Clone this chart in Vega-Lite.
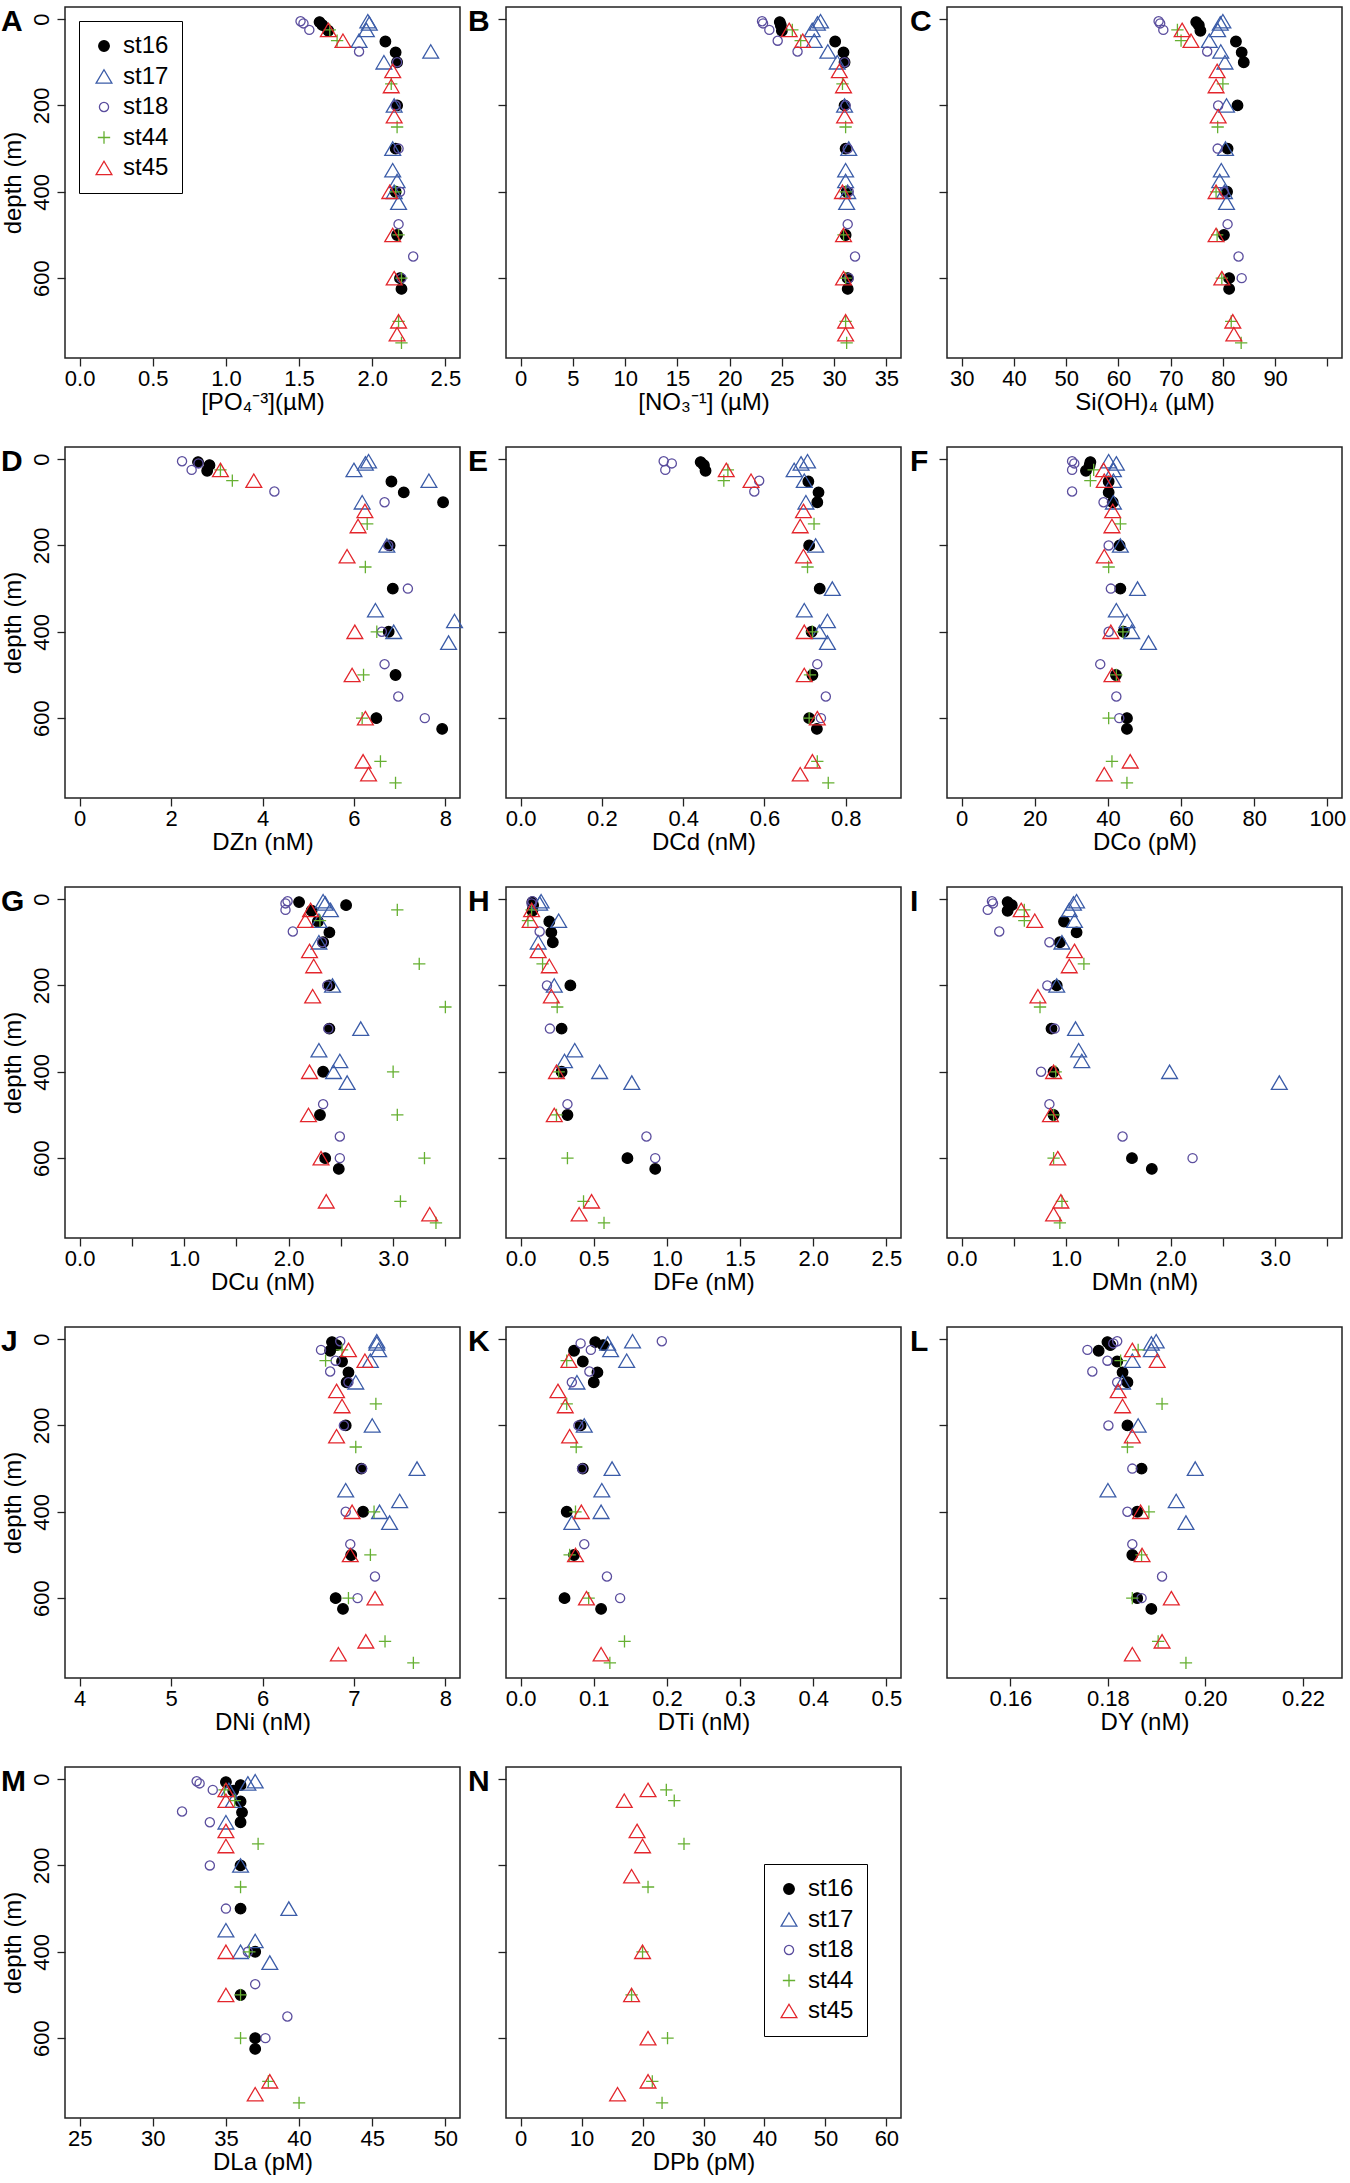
{
  "$schema": "https://vega.github.io/schema/vega-lite/v6.json",
  "background": "white",
  "padding": {"top": 6, "left": 0, "right": 0, "bottom": 0},
  "config": {
    "font": "Liberation Sans",
    "view": {"stroke": "#222222", "strokeWidth": 1.5},
    "point": {"size": 250, "strokeWidth": 1.3, "opacity": 1},
    "axis": {"domain": false, "grid": false, "tickColor": "#222222", "tickSize": 8, "tickWidth": 1.3,
      "labelFont": "Liberation Sans", "labelFontSize": 22, "labelColor": "black",
      "titleFont": "Liberation Sans", "titleFontSize": 24, "titleFontWeight": "normal", "titleColor": "black",
      "labelOverlap": false, "labelFlush": false},
    "axisX": {"labelPadding": 2, "titlePadding": 1},
    "axisY": {"labelAngle": -90, "labelAlign": "center", "labelBaseline": "bottom", "labelPadding": 4, "titlePadding": 5},
    "title": {"font": "Liberation Sans", "fontSize": 30, "fontWeight": "bold", "anchor": "start", "frame": "group", "offset": 0, "baseline": "alphabetic", "color": "black"},
    "legend": {"labelFont": "Liberation Sans", "labelFontSize": 24, "labelColor": "black", "symbolSize": 250, "symbolStrokeWidth": 1.3,
      "strokeColor": "black", "fillColor": "white", "padding": 13, "rowPadding": 6.5, "labelOffset": 7}
  },
  "data": {"values": [
{"p":"A","s":"st16","d":7,"v":1.64},{"p":"A","s":"st16","d":14,"v":1.66},{"p":"A","s":"st16","d":27,"v":1.70},{"p":"A","s":"st16","d":52,"v":2.09},{"p":"A","s":"st16","d":77,"v":2.16},{"p":"A","s":"st16","d":100,"v":2.17},{"p":"A","s":"st16","d":200,"v":2.17},{"p":"A","s":"st16","d":300,"v":2.16},{"p":"A","s":"st16","d":400,"v":2.16},{"p":"A","s":"st16","d":500,"v":2.17},{"p":"A","s":"st16","d":600,"v":2.19},{"p":"A","s":"st16","d":625,"v":2.20},
{"p":"A","s":"st17","d":5,"v":1.97},{"p":"A","s":"st17","d":10,"v":1.98},{"p":"A","s":"st17","d":25,"v":1.96},{"p":"A","s":"st17","d":50,"v":1.91},{"p":"A","s":"st17","d":75,"v":2.40},{"p":"A","s":"st17","d":100,"v":2.08},{"p":"A","s":"st17","d":200,"v":2.15},{"p":"A","s":"st17","d":300,"v":2.14},{"p":"A","s":"st17","d":350,"v":2.14},{"p":"A","s":"st17","d":375,"v":2.17},{"p":"A","s":"st17","d":400,"v":2.15},{"p":"A","s":"st17","d":425,"v":2.18},
{"p":"A","s":"st18","d":5,"v":1.51},{"p":"A","s":"st18","d":10,"v":1.53},{"p":"A","s":"st18","d":25,"v":1.57},{"p":"A","s":"st18","d":75,"v":1.91},{"p":"A","s":"st18","d":100,"v":2.17},{"p":"A","s":"st18","d":200,"v":2.16},{"p":"A","s":"st18","d":300,"v":2.18},{"p":"A","s":"st18","d":400,"v":2.19},{"p":"A","s":"st18","d":475,"v":2.18},{"p":"A","s":"st18","d":550,"v":2.28},{"p":"A","s":"st18","d":600,"v":2.20},
{"p":"A","s":"st44","d":25,"v":1.71},{"p":"A","s":"st44","d":50,"v":1.76},{"p":"A","s":"st44","d":150,"v":2.13},{"p":"A","s":"st44","d":250,"v":2.17},{"p":"A","s":"st44","d":400,"v":2.16},{"p":"A","s":"st44","d":500,"v":2.18},{"p":"A","s":"st44","d":600,"v":2.20},{"p":"A","s":"st44","d":700,"v":2.18},{"p":"A","s":"st44","d":750,"v":2.20},
{"p":"A","s":"st45","d":25,"v":1.70},{"p":"A","s":"st45","d":50,"v":1.80},{"p":"A","s":"st45","d":120,"v":2.14},{"p":"A","s":"st45","d":155,"v":2.13},{"p":"A","s":"st45","d":225,"v":2.15},{"p":"A","s":"st45","d":400,"v":2.12},{"p":"A","s":"st45","d":500,"v":2.14},{"p":"A","s":"st45","d":600,"v":2.15},{"p":"A","s":"st45","d":700,"v":2.18},{"p":"A","s":"st45","d":730,"v":2.17},

{"p":"B","s":"st16","d":7,"v":24.8},{"p":"B","s":"st16","d":14,"v":24.9},{"p":"B","s":"st16","d":27,"v":25.0},{"p":"B","s":"st16","d":52,"v":30.1},{"p":"B","s":"st16","d":77,"v":30.9},{"p":"B","s":"st16","d":100,"v":31.0},{"p":"B","s":"st16","d":200,"v":31.0},{"p":"B","s":"st16","d":300,"v":31.1},{"p":"B","s":"st16","d":400,"v":31.2},{"p":"B","s":"st16","d":500,"v":31.1},{"p":"B","s":"st16","d":600,"v":31.3},{"p":"B","s":"st16","d":625,"v":31.3},
{"p":"B","s":"st17","d":5,"v":28.7},{"p":"B","s":"st17","d":10,"v":28.4},{"p":"B","s":"st17","d":25,"v":27.9},{"p":"B","s":"st17","d":50,"v":28.1},{"p":"B","s":"st17","d":75,"v":29.4},{"p":"B","s":"st17","d":100,"v":30.3},{"p":"B","s":"st17","d":200,"v":31.0},{"p":"B","s":"st17","d":300,"v":31.4},{"p":"B","s":"st17","d":350,"v":31.1},{"p":"B","s":"st17","d":375,"v":31.1},{"p":"B","s":"st17","d":400,"v":31.3},{"p":"B","s":"st17","d":425,"v":31.2},
{"p":"B","s":"st18","d":5,"v":23.1},{"p":"B","s":"st18","d":10,"v":23.2},{"p":"B","s":"st18","d":25,"v":23.8},{"p":"B","s":"st18","d":50,"v":24.6},{"p":"B","s":"st18","d":75,"v":26.5},{"p":"B","s":"st18","d":100,"v":31.0},{"p":"B","s":"st18","d":200,"v":31.1},{"p":"B","s":"st18","d":300,"v":31.3},{"p":"B","s":"st18","d":400,"v":31.4},{"p":"B","s":"st18","d":475,"v":31.3},{"p":"B","s":"st18","d":550,"v":32.0},{"p":"B","s":"st18","d":600,"v":31.4},
{"p":"B","s":"st44","d":25,"v":26.0},{"p":"B","s":"st44","d":50,"v":26.8},{"p":"B","s":"st44","d":150,"v":30.8},{"p":"B","s":"st44","d":250,"v":31.1},{"p":"B","s":"st44","d":400,"v":31.1},{"p":"B","s":"st44","d":500,"v":30.9},{"p":"B","s":"st44","d":600,"v":31.1},{"p":"B","s":"st44","d":700,"v":31.1},{"p":"B","s":"st44","d":750,"v":31.2},
{"p":"B","s":"st45","d":25,"v":25.7},{"p":"B","s":"st45","d":50,"v":27.0},{"p":"B","s":"st45","d":120,"v":30.5},{"p":"B","s":"st45","d":155,"v":30.9},{"p":"B","s":"st45","d":225,"v":31.0},{"p":"B","s":"st45","d":400,"v":30.8},{"p":"B","s":"st45","d":500,"v":30.9},{"p":"B","s":"st45","d":600,"v":30.9},{"p":"B","s":"st45","d":700,"v":31.1},{"p":"B","s":"st45","d":730,"v":31.1},

{"p":"C","s":"st16","d":7,"v":74.9},{"p":"C","s":"st16","d":14,"v":75.4},{"p":"C","s":"st16","d":27,"v":75.7},{"p":"C","s":"st16","d":52,"v":82.5},{"p":"C","s":"st16","d":77,"v":83.6},{"p":"C","s":"st16","d":100,"v":84.0},{"p":"C","s":"st16","d":200,"v":82.8},{"p":"C","s":"st16","d":300,"v":80.9},{"p":"C","s":"st16","d":400,"v":80.8},{"p":"C","s":"st16","d":500,"v":80.2},{"p":"C","s":"st16","d":600,"v":81.2},{"p":"C","s":"st16","d":625,"v":81.2},
{"p":"C","s":"st17","d":5,"v":80.0},{"p":"C","s":"st17","d":10,"v":79.5},{"p":"C","s":"st17","d":25,"v":79.0},{"p":"C","s":"st17","d":50,"v":77.4},{"p":"C","s":"st17","d":75,"v":79.6},{"p":"C","s":"st17","d":100,"v":80.4},{"p":"C","s":"st17","d":200,"v":80.7},{"p":"C","s":"st17","d":300,"v":80.5},{"p":"C","s":"st17","d":350,"v":79.7},{"p":"C","s":"st17","d":375,"v":79.4},{"p":"C","s":"st17","d":400,"v":80.3},{"p":"C","s":"st17","d":425,"v":80.7},
{"p":"C","s":"st18","d":5,"v":67.7},{"p":"C","s":"st18","d":10,"v":68.0},{"p":"C","s":"st18","d":25,"v":68.6},{"p":"C","s":"st18","d":75,"v":77.0},{"p":"C","s":"st18","d":200,"v":79.1},{"p":"C","s":"st18","d":300,"v":79.0},{"p":"C","s":"st18","d":400,"v":80.2},{"p":"C","s":"st18","d":475,"v":80.9},{"p":"C","s":"st18","d":550,"v":83.0},{"p":"C","s":"st18","d":600,"v":83.6},
{"p":"C","s":"st44","d":25,"v":71.3},{"p":"C","s":"st44","d":50,"v":72.0},{"p":"C","s":"st44","d":150,"v":80.0},{"p":"C","s":"st44","d":250,"v":79.0},{"p":"C","s":"st44","d":400,"v":78.7},{"p":"C","s":"st44","d":500,"v":78.9},{"p":"C","s":"st44","d":600,"v":79.8},{"p":"C","s":"st44","d":700,"v":81.6},{"p":"C","s":"st44","d":750,"v":83.5},
{"p":"C","s":"st45","d":25,"v":72.2},{"p":"C","s":"st45","d":50,"v":73.9},{"p":"C","s":"st45","d":120,"v":78.9},{"p":"C","s":"st45","d":155,"v":78.7},{"p":"C","s":"st45","d":225,"v":79.1},{"p":"C","s":"st45","d":400,"v":78.7},{"p":"C","s":"st45","d":500,"v":78.7},{"p":"C","s":"st45","d":600,"v":79.8},{"p":"C","s":"st45","d":700,"v":81.9},{"p":"C","s":"st45","d":730,"v":82.1},

{"p":"D","s":"st16","d":7,"v":2.59},{"p":"D","s":"st16","d":14,"v":2.84},{"p":"D","s":"st16","d":27,"v":2.79},{"p":"D","s":"st16","d":52,"v":6.82},{"p":"D","s":"st16","d":77,"v":7.09},{"p":"D","s":"st16","d":100,"v":7.95},{"p":"D","s":"st16","d":200,"v":6.78},{"p":"D","s":"st16","d":300,"v":6.85},{"p":"D","s":"st16","d":400,"v":6.76},{"p":"D","s":"st16","d":500,"v":6.91},{"p":"D","s":"st16","d":600,"v":6.49},{"p":"D","s":"st16","d":625,"v":7.93},
{"p":"D","s":"st17","d":5,"v":6.32},{"p":"D","s":"st17","d":10,"v":6.25},{"p":"D","s":"st17","d":25,"v":6.00},{"p":"D","s":"st17","d":50,"v":7.64},{"p":"D","s":"st17","d":100,"v":6.18},{"p":"D","s":"st17","d":200,"v":6.72},{"p":"D","s":"st17","d":350,"v":6.47},{"p":"D","s":"st17","d":375,"v":8.20},{"p":"D","s":"st17","d":400,"v":6.87},{"p":"D","s":"st17","d":425,"v":8.07},
{"p":"D","s":"st18","d":5,"v":2.24},{"p":"D","s":"st18","d":10,"v":2.60},{"p":"D","s":"st18","d":25,"v":2.45},{"p":"D","s":"st18","d":75,"v":4.26},{"p":"D","s":"st18","d":100,"v":6.67},{"p":"D","s":"st18","d":200,"v":6.75},{"p":"D","s":"st18","d":300,"v":7.18},{"p":"D","s":"st18","d":400,"v":6.61},{"p":"D","s":"st18","d":475,"v":6.67},{"p":"D","s":"st18","d":550,"v":6.97},{"p":"D","s":"st18","d":600,"v":7.55},
{"p":"D","s":"st44","d":25,"v":3.08},{"p":"D","s":"st44","d":50,"v":3.34},{"p":"D","s":"st44","d":150,"v":6.29},{"p":"D","s":"st44","d":250,"v":6.25},{"p":"D","s":"st44","d":400,"v":6.50},{"p":"D","s":"st44","d":500,"v":6.21},{"p":"D","s":"st44","d":600,"v":6.18},{"p":"D","s":"st44","d":700,"v":6.58},{"p":"D","s":"st44","d":750,"v":6.91},
{"p":"D","s":"st45","d":25,"v":3.08},{"p":"D","s":"st45","d":50,"v":3.81},{"p":"D","s":"st45","d":120,"v":6.24},{"p":"D","s":"st45","d":155,"v":6.09},{"p":"D","s":"st45","d":225,"v":5.85},{"p":"D","s":"st45","d":400,"v":6.02},{"p":"D","s":"st45","d":500,"v":5.96},{"p":"D","s":"st45","d":600,"v":6.25},{"p":"D","s":"st45","d":700,"v":6.20},{"p":"D","s":"st45","d":730,"v":6.32},

{"p":"E","s":"st16","d":7,"v":0.443},{"p":"E","s":"st16","d":14,"v":0.451},{"p":"E","s":"st16","d":27,"v":0.455},{"p":"E","s":"st16","d":52,"v":0.708},{"p":"E","s":"st16","d":77,"v":0.733},{"p":"E","s":"st16","d":100,"v":0.730},{"p":"E","s":"st16","d":200,"v":0.710},{"p":"E","s":"st16","d":300,"v":0.736},{"p":"E","s":"st16","d":400,"v":0.716},{"p":"E","s":"st16","d":500,"v":0.718},{"p":"E","s":"st16","d":600,"v":0.710},{"p":"E","s":"st16","d":625,"v":0.729},
{"p":"E","s":"st17","d":5,"v":0.706},{"p":"E","s":"st17","d":10,"v":0.690},{"p":"E","s":"st17","d":25,"v":0.673},{"p":"E","s":"st17","d":50,"v":0.698},{"p":"E","s":"st17","d":100,"v":0.702},{"p":"E","s":"st17","d":200,"v":0.726},{"p":"E","s":"st17","d":300,"v":0.767},{"p":"E","s":"st17","d":350,"v":0.698},{"p":"E","s":"st17","d":375,"v":0.755},{"p":"E","s":"st17","d":400,"v":0.735},{"p":"E","s":"st17","d":425,"v":0.755},
{"p":"E","s":"st18","d":5,"v":0.352},{"p":"E","s":"st18","d":10,"v":0.372},{"p":"E","s":"st18","d":25,"v":0.356},{"p":"E","s":"st18","d":50,"v":0.587},{"p":"E","s":"st18","d":75,"v":0.575},{"p":"E","s":"st18","d":475,"v":0.730},{"p":"E","s":"st18","d":550,"v":0.751},{"p":"E","s":"st18","d":600,"v":0.739},
{"p":"E","s":"st44","d":25,"v":0.510},{"p":"E","s":"st44","d":50,"v":0.500},{"p":"E","s":"st44","d":150,"v":0.722},{"p":"E","s":"st44","d":250,"v":0.706},{"p":"E","s":"st44","d":400,"v":0.718},{"p":"E","s":"st44","d":500,"v":0.712},{"p":"E","s":"st44","d":600,"v":0.710},{"p":"E","s":"st44","d":700,"v":0.730},{"p":"E","s":"st44","d":750,"v":0.757},
{"p":"E","s":"st45","d":25,"v":0.506},{"p":"E","s":"st45","d":50,"v":0.567},{"p":"E","s":"st45","d":120,"v":0.696},{"p":"E","s":"st45","d":155,"v":0.688},{"p":"E","s":"st45","d":225,"v":0.696},{"p":"E","s":"st45","d":400,"v":0.698},{"p":"E","s":"st45","d":500,"v":0.698},{"p":"E","s":"st45","d":600,"v":0.730},{"p":"E","s":"st45","d":700,"v":0.718},{"p":"E","s":"st45","d":730,"v":0.688},

{"p":"F","s":"st16","d":7,"v":35.2},{"p":"F","s":"st16","d":14,"v":35.0},{"p":"F","s":"st16","d":27,"v":34.0},{"p":"F","s":"st16","d":52,"v":40.2},{"p":"F","s":"st16","d":77,"v":40.2},{"p":"F","s":"st16","d":100,"v":41.3},{"p":"F","s":"st16","d":200,"v":43.2},{"p":"F","s":"st16","d":300,"v":43.4},{"p":"F","s":"st16","d":400,"v":44.3},{"p":"F","s":"st16","d":500,"v":42.2},{"p":"F","s":"st16","d":600,"v":45.2},{"p":"F","s":"st16","d":625,"v":45.2},
{"p":"F","s":"st17","d":5,"v":40.2},{"p":"F","s":"st17","d":10,"v":42.3},{"p":"F","s":"st17","d":25,"v":41.5},{"p":"F","s":"st17","d":50,"v":41.5},{"p":"F","s":"st17","d":100,"v":41.5},{"p":"F","s":"st17","d":200,"v":43.4},{"p":"F","s":"st17","d":300,"v":48.1},{"p":"F","s":"st17","d":350,"v":42.3},{"p":"F","s":"st17","d":375,"v":45.2},{"p":"F","s":"st17","d":400,"v":46.5},{"p":"F","s":"st17","d":425,"v":51.1},
{"p":"F","s":"st18","d":5,"v":30.2},{"p":"F","s":"st18","d":10,"v":30.8},{"p":"F","s":"st18","d":25,"v":30.2},{"p":"F","s":"st18","d":75,"v":30.2},{"p":"F","s":"st18","d":100,"v":38.8},{"p":"F","s":"st18","d":200,"v":40.2},{"p":"F","s":"st18","d":300,"v":40.8},{"p":"F","s":"st18","d":400,"v":40.2},{"p":"F","s":"st18","d":475,"v":37.9},{"p":"F","s":"st18","d":550,"v":42.3},{"p":"F","s":"st18","d":600,"v":43.1},
{"p":"F","s":"st44","d":25,"v":36.1},{"p":"F","s":"st44","d":50,"v":35.2},{"p":"F","s":"st44","d":150,"v":43.4},{"p":"F","s":"st44","d":250,"v":40.2},{"p":"F","s":"st44","d":400,"v":44.1},{"p":"F","s":"st44","d":500,"v":42.3},{"p":"F","s":"st44","d":600,"v":40.2},{"p":"F","s":"st44","d":700,"v":41.1},{"p":"F","s":"st44","d":750,"v":45.2},
{"p":"F","s":"st45","d":25,"v":38.8},{"p":"F","s":"st45","d":50,"v":39.0},{"p":"F","s":"st45","d":120,"v":41.3},{"p":"F","s":"st45","d":155,"v":41.1},{"p":"F","s":"st45","d":225,"v":39.0},{"p":"F","s":"st45","d":400,"v":40.8},{"p":"F","s":"st45","d":500,"v":41.1},{"p":"F","s":"st45","d":700,"v":46.1},{"p":"F","s":"st45","d":730,"v":39.0},

{"p":"G","s":"st16","d":7,"v":2.10},{"p":"G","s":"st16","d":14,"v":2.55},{"p":"G","s":"st16","d":27,"v":2.22},{"p":"G","s":"st16","d":52,"v":2.28},{"p":"G","s":"st16","d":77,"v":2.39},{"p":"G","s":"st16","d":100,"v":2.33},{"p":"G","s":"st16","d":200,"v":2.39},{"p":"G","s":"st16","d":300,"v":2.39},{"p":"G","s":"st16","d":400,"v":2.33},{"p":"G","s":"st16","d":500,"v":2.30},{"p":"G","s":"st16","d":600,"v":2.35},{"p":"G","s":"st16","d":625,"v":2.48},
{"p":"G","s":"st17","d":5,"v":2.33},{"p":"G","s":"st17","d":10,"v":2.35},{"p":"G","s":"st17","d":25,"v":2.40},{"p":"G","s":"st17","d":50,"v":2.29},{"p":"G","s":"st17","d":100,"v":2.29},{"p":"G","s":"st17","d":200,"v":2.42},{"p":"G","s":"st17","d":300,"v":2.69},{"p":"G","s":"st17","d":350,"v":2.29},{"p":"G","s":"st17","d":375,"v":2.49},{"p":"G","s":"st17","d":400,"v":2.43},{"p":"G","s":"st17","d":425,"v":2.56},
{"p":"G","s":"st18","d":5,"v":1.99},{"p":"G","s":"st18","d":10,"v":1.97},{"p":"G","s":"st18","d":25,"v":1.97},{"p":"G","s":"st18","d":75,"v":2.04},{"p":"G","s":"st18","d":100,"v":2.32},{"p":"G","s":"st18","d":200,"v":2.37},{"p":"G","s":"st18","d":300,"v":2.38},{"p":"G","s":"st18","d":475,"v":2.33},{"p":"G","s":"st18","d":550,"v":2.49},{"p":"G","s":"st18","d":600,"v":2.49},
{"p":"G","s":"st44","d":25,"v":3.04},{"p":"G","s":"st44","d":50,"v":2.30},{"p":"G","s":"st44","d":150,"v":3.25},{"p":"G","s":"st44","d":250,"v":3.50},{"p":"G","s":"st44","d":400,"v":3.00},{"p":"G","s":"st44","d":500,"v":3.04},{"p":"G","s":"st44","d":600,"v":3.30},{"p":"G","s":"st44","d":700,"v":3.07},{"p":"G","s":"st44","d":750,"v":3.41},
{"p":"G","s":"st45","d":25,"v":2.21},{"p":"G","s":"st45","d":50,"v":2.16},{"p":"G","s":"st45","d":120,"v":2.20},{"p":"G","s":"st45","d":155,"v":2.24},{"p":"G","s":"st45","d":225,"v":2.23},{"p":"G","s":"st45","d":400,"v":2.20},{"p":"G","s":"st45","d":500,"v":2.19},{"p":"G","s":"st45","d":600,"v":2.31},{"p":"G","s":"st45","d":700,"v":2.36},{"p":"G","s":"st45","d":730,"v":3.35},

{"p":"H","s":"st16","d":7,"v":0.080},{"p":"H","s":"st16","d":14,"v":0.085},{"p":"H","s":"st16","d":27,"v":0.080},{"p":"H","s":"st16","d":52,"v":0.196},{"p":"H","s":"st16","d":77,"v":0.210},{"p":"H","s":"st16","d":100,"v":0.220},{"p":"H","s":"st16","d":200,"v":0.340},{"p":"H","s":"st16","d":300,"v":0.280},{"p":"H","s":"st16","d":400,"v":0.280},{"p":"H","s":"st16","d":500,"v":0.320},{"p":"H","s":"st16","d":600,"v":0.730},{"p":"H","s":"st16","d":625,"v":0.920},
{"p":"H","s":"st17","d":5,"v":0.140},{"p":"H","s":"st17","d":10,"v":0.130},{"p":"H","s":"st17","d":50,"v":0.260},{"p":"H","s":"st17","d":100,"v":0.120},{"p":"H","s":"st17","d":200,"v":0.230},{"p":"H","s":"st17","d":350,"v":0.370},{"p":"H","s":"st17","d":375,"v":0.300},{"p":"H","s":"st17","d":400,"v":0.540},{"p":"H","s":"st17","d":425,"v":0.760},
{"p":"H","s":"st18","d":5,"v":0.080},{"p":"H","s":"st18","d":10,"v":0.075},{"p":"H","s":"st18","d":75,"v":0.130},{"p":"H","s":"st18","d":200,"v":0.180},{"p":"H","s":"st18","d":300,"v":0.200},{"p":"H","s":"st18","d":475,"v":0.320},{"p":"H","s":"st18","d":550,"v":0.860},{"p":"H","s":"st18","d":600,"v":0.920},
{"p":"H","s":"st44","d":25,"v":0.075},{"p":"H","s":"st44","d":50,"v":0.050},{"p":"H","s":"st44","d":150,"v":0.150},{"p":"H","s":"st44","d":250,"v":0.250},{"p":"H","s":"st44","d":400,"v":0.260},{"p":"H","s":"st44","d":500,"v":0.245},{"p":"H","s":"st44","d":600,"v":0.320},{"p":"H","s":"st44","d":700,"v":0.430},{"p":"H","s":"st44","d":750,"v":0.570},
{"p":"H","s":"st45","d":25,"v":0.075},{"p":"H","s":"st45","d":50,"v":0.065},{"p":"H","s":"st45","d":120,"v":0.120},{"p":"H","s":"st45","d":155,"v":0.196},{"p":"H","s":"st45","d":225,"v":0.210},{"p":"H","s":"st45","d":400,"v":0.245},{"p":"H","s":"st45","d":500,"v":0.230},{"p":"H","s":"st45","d":700,"v":0.485},{"p":"H","s":"st45","d":730,"v":0.400},

{"p":"I","s":"st16","d":7,"v":0.44},{"p":"I","s":"st16","d":14,"v":0.48},{"p":"I","s":"st16","d":27,"v":0.44},{"p":"I","s":"st16","d":52,"v":0.98},{"p":"I","s":"st16","d":77,"v":1.10},{"p":"I","s":"st16","d":100,"v":0.94},{"p":"I","s":"st16","d":200,"v":0.91},{"p":"I","s":"st16","d":300,"v":0.86},{"p":"I","s":"st16","d":400,"v":0.88},{"p":"I","s":"st16","d":500,"v":0.88},{"p":"I","s":"st16","d":600,"v":1.63},{"p":"I","s":"st16","d":625,"v":1.82},
{"p":"I","s":"st17","d":5,"v":1.10},{"p":"I","s":"st17","d":10,"v":1.07},{"p":"I","s":"st17","d":25,"v":1.03},{"p":"I","s":"st17","d":50,"v":1.08},{"p":"I","s":"st17","d":100,"v":0.96},{"p":"I","s":"st17","d":200,"v":0.91},{"p":"I","s":"st17","d":300,"v":1.09},{"p":"I","s":"st17","d":350,"v":1.12},{"p":"I","s":"st17","d":375,"v":1.15},{"p":"I","s":"st17","d":400,"v":1.99},{"p":"I","s":"st17","d":425,"v":3.04},
{"p":"I","s":"st18","d":5,"v":0.29},{"p":"I","s":"st18","d":10,"v":0.30},{"p":"I","s":"st18","d":25,"v":0.25},{"p":"I","s":"st18","d":75,"v":0.36},{"p":"I","s":"st18","d":100,"v":0.84},{"p":"I","s":"st18","d":200,"v":0.82},{"p":"I","s":"st18","d":300,"v":0.89},{"p":"I","s":"st18","d":400,"v":0.76},{"p":"I","s":"st18","d":475,"v":0.84},{"p":"I","s":"st18","d":550,"v":1.54},{"p":"I","s":"st18","d":600,"v":2.21},
{"p":"I","s":"st44","d":25,"v":0.60},{"p":"I","s":"st44","d":50,"v":0.60},{"p":"I","s":"st44","d":150,"v":1.17},{"p":"I","s":"st44","d":250,"v":0.75},{"p":"I","s":"st44","d":400,"v":0.90},{"p":"I","s":"st44","d":500,"v":0.88},{"p":"I","s":"st44","d":600,"v":0.88},{"p":"I","s":"st44","d":700,"v":0.96},{"p":"I","s":"st44","d":750,"v":0.94},
{"p":"I","s":"st45","d":25,"v":0.57},{"p":"I","s":"st45","d":50,"v":0.70},{"p":"I","s":"st45","d":120,"v":1.08},{"p":"I","s":"st45","d":155,"v":1.03},{"p":"I","s":"st45","d":225,"v":0.73},{"p":"I","s":"st45","d":400,"v":0.88},{"p":"I","s":"st45","d":500,"v":0.85},{"p":"I","s":"st45","d":600,"v":0.92},{"p":"I","s":"st45","d":700,"v":0.95},{"p":"I","s":"st45","d":730,"v":0.88},

{"p":"J","s":"st16","d":7,"v":6.76},{"p":"J","s":"st16","d":14,"v":6.81},{"p":"J","s":"st16","d":27,"v":6.74},{"p":"J","s":"st16","d":52,"v":6.87},{"p":"J","s":"st16","d":77,"v":6.94},{"p":"J","s":"st16","d":100,"v":6.92},{"p":"J","s":"st16","d":200,"v":6.91},{"p":"J","s":"st16","d":300,"v":7.08},{"p":"J","s":"st16","d":400,"v":7.10},{"p":"J","s":"st16","d":500,"v":6.97},{"p":"J","s":"st16","d":600,"v":6.80},{"p":"J","s":"st16","d":625,"v":6.88},
{"p":"J","s":"st17","d":5,"v":7.25},{"p":"J","s":"st17","d":10,"v":7.25},{"p":"J","s":"st17","d":25,"v":7.27},{"p":"J","s":"st17","d":50,"v":7.18},{"p":"J","s":"st17","d":100,"v":7.02},{"p":"J","s":"st17","d":200,"v":7.20},{"p":"J","s":"st17","d":300,"v":7.69},{"p":"J","s":"st17","d":350,"v":6.91},{"p":"J","s":"st17","d":375,"v":7.50},{"p":"J","s":"st17","d":400,"v":7.28},{"p":"J","s":"st17","d":425,"v":7.39},
{"p":"J","s":"st18","d":5,"v":6.85},{"p":"J","s":"st18","d":25,"v":6.64},{"p":"J","s":"st18","d":50,"v":6.80},{"p":"J","s":"st18","d":75,"v":6.74},{"p":"J","s":"st18","d":100,"v":6.94},{"p":"J","s":"st18","d":200,"v":6.89},{"p":"J","s":"st18","d":300,"v":7.09},{"p":"J","s":"st18","d":400,"v":6.91},{"p":"J","s":"st18","d":475,"v":6.96},{"p":"J","s":"st18","d":550,"v":7.23},{"p":"J","s":"st18","d":600,"v":7.04},
{"p":"J","s":"st44","d":25,"v":6.87},{"p":"J","s":"st44","d":50,"v":6.69},{"p":"J","s":"st44","d":150,"v":7.24},{"p":"J","s":"st44","d":250,"v":7.02},{"p":"J","s":"st44","d":400,"v":7.22},{"p":"J","s":"st44","d":500,"v":7.18},{"p":"J","s":"st44","d":600,"v":6.94},{"p":"J","s":"st44","d":700,"v":7.34},{"p":"J","s":"st44","d":750,"v":7.65},
{"p":"J","s":"st45","d":25,"v":6.94},{"p":"J","s":"st45","d":50,"v":7.12},{"p":"J","s":"st45","d":120,"v":6.81},{"p":"J","s":"st45","d":155,"v":6.87},{"p":"J","s":"st45","d":225,"v":6.81},{"p":"J","s":"st45","d":400,"v":6.98},{"p":"J","s":"st45","d":500,"v":6.96},{"p":"J","s":"st45","d":600,"v":7.23},{"p":"J","s":"st45","d":700,"v":7.13},{"p":"J","s":"st45","d":730,"v":6.83},

{"p":"K","s":"st16","d":7,"v":0.102},{"p":"K","s":"st16","d":14,"v":0.113},{"p":"K","s":"st16","d":27,"v":0.073},{"p":"K","s":"st16","d":52,"v":0.085},{"p":"K","s":"st16","d":77,"v":0.105},{"p":"K","s":"st16","d":100,"v":0.100},{"p":"K","s":"st16","d":200,"v":0.082},{"p":"K","s":"st16","d":300,"v":0.085},{"p":"K","s":"st16","d":400,"v":0.063},{"p":"K","s":"st16","d":500,"v":0.073},{"p":"K","s":"st16","d":600,"v":0.060},{"p":"K","s":"st16","d":625,"v":0.110},
{"p":"K","s":"st17","d":5,"v":0.153},{"p":"K","s":"st17","d":10,"v":0.119},{"p":"K","s":"st17","d":25,"v":0.123},{"p":"K","s":"st17","d":50,"v":0.145},{"p":"K","s":"st17","d":100,"v":0.077},{"p":"K","s":"st17","d":200,"v":0.087},{"p":"K","s":"st17","d":300,"v":0.125},{"p":"K","s":"st17","d":350,"v":0.111},{"p":"K","s":"st17","d":400,"v":0.110},{"p":"K","s":"st17","d":425,"v":0.070},
{"p":"K","s":"st18","d":5,"v":0.193},{"p":"K","s":"st18","d":10,"v":0.082},{"p":"K","s":"st18","d":25,"v":0.096},{"p":"K","s":"st18","d":75,"v":0.094},{"p":"K","s":"st18","d":100,"v":0.070},{"p":"K","s":"st18","d":200,"v":0.079},{"p":"K","s":"st18","d":300,"v":0.084},{"p":"K","s":"st18","d":475,"v":0.087},{"p":"K","s":"st18","d":550,"v":0.118},{"p":"K","s":"st18","d":600,"v":0.136},
{"p":"K","s":"st44","d":50,"v":0.063},{"p":"K","s":"st44","d":150,"v":0.063},{"p":"K","s":"st44","d":250,"v":0.076},{"p":"K","s":"st44","d":400,"v":0.075},{"p":"K","s":"st44","d":500,"v":0.067},{"p":"K","s":"st44","d":600,"v":0.093},{"p":"K","s":"st44","d":700,"v":0.142},{"p":"K","s":"st44","d":750,"v":0.122},
{"p":"K","s":"st45","d":50,"v":0.066},{"p":"K","s":"st45","d":120,"v":0.051},{"p":"K","s":"st45","d":155,"v":0.061},{"p":"K","s":"st45","d":225,"v":0.067},{"p":"K","s":"st45","d":400,"v":0.083},{"p":"K","s":"st45","d":500,"v":0.075},{"p":"K","s":"st45","d":600,"v":0.090},{"p":"K","s":"st45","d":730,"v":0.110},

{"p":"L","s":"st16","d":7,"v":0.1799},{"p":"L","s":"st16","d":14,"v":0.1805},{"p":"L","s":"st16","d":27,"v":0.1781},{"p":"L","s":"st16","d":52,"v":0.1819},{"p":"L","s":"st16","d":77,"v":0.1830},{"p":"L","s":"st16","d":100,"v":0.1840},{"p":"L","s":"st16","d":200,"v":0.1840},{"p":"L","s":"st16","d":300,"v":0.1869},{"p":"L","s":"st16","d":400,"v":0.1860},{"p":"L","s":"st16","d":500,"v":0.1850},{"p":"L","s":"st16","d":600,"v":0.1860},{"p":"L","s":"st16","d":625,"v":0.1889},
{"p":"L","s":"st17","d":5,"v":0.1899},{"p":"L","s":"st17","d":10,"v":0.1889},{"p":"L","s":"st17","d":25,"v":0.1889},{"p":"L","s":"st17","d":50,"v":0.1850},{"p":"L","s":"st17","d":100,"v":0.1830},{"p":"L","s":"st17","d":200,"v":0.1862},{"p":"L","s":"st17","d":300,"v":0.1979},{"p":"L","s":"st17","d":350,"v":0.1800},{"p":"L","s":"st17","d":375,"v":0.1940},{"p":"L","s":"st17","d":425,"v":0.1960},
{"p":"L","s":"st18","d":5,"v":0.1819},{"p":"L","s":"st18","d":10,"v":0.1811},{"p":"L","s":"st18","d":25,"v":0.1758},{"p":"L","s":"st18","d":50,"v":0.1799},{"p":"L","s":"st18","d":75,"v":0.1768},{"p":"L","s":"st18","d":100,"v":0.1819},{"p":"L","s":"st18","d":200,"v":0.1801},{"p":"L","s":"st18","d":300,"v":0.1850},{"p":"L","s":"st18","d":400,"v":0.1840},{"p":"L","s":"st18","d":475,"v":0.1850},{"p":"L","s":"st18","d":550,"v":0.1911},{"p":"L","s":"st18","d":600,"v":0.1869},
{"p":"L","s":"st44","d":25,"v":0.1862},{"p":"L","s":"st44","d":50,"v":0.1826},{"p":"L","s":"st44","d":150,"v":0.1911},{"p":"L","s":"st44","d":250,"v":0.1840},{"p":"L","s":"st44","d":400,"v":0.1884},{"p":"L","s":"st44","d":500,"v":0.1869},{"p":"L","s":"st44","d":600,"v":0.1850},{"p":"L","s":"st44","d":700,"v":0.1903},{"p":"L","s":"st44","d":750,"v":0.1960},
{"p":"L","s":"st45","d":25,"v":0.1850},{"p":"L","s":"st45","d":50,"v":0.1901},{"p":"L","s":"st45","d":120,"v":0.1821},{"p":"L","s":"st45","d":155,"v":0.1830},{"p":"L","s":"st45","d":225,"v":0.1850},{"p":"L","s":"st45","d":400,"v":0.1867},{"p":"L","s":"st45","d":500,"v":0.1870},{"p":"L","s":"st45","d":600,"v":0.1930},{"p":"L","s":"st45","d":700,"v":0.1911},{"p":"L","s":"st45","d":730,"v":0.1850},

{"p":"M","s":"st16","d":7,"v":35.0},{"p":"M","s":"st16","d":14,"v":36.0},{"p":"M","s":"st16","d":27,"v":35.5},{"p":"M","s":"st16","d":52,"v":36.0},{"p":"M","s":"st16","d":77,"v":36.1},{"p":"M","s":"st16","d":100,"v":36.0},{"p":"M","s":"st16","d":200,"v":36.0},{"p":"M","s":"st16","d":300,"v":36.0},{"p":"M","s":"st16","d":400,"v":37.0},{"p":"M","s":"st16","d":500,"v":36.0},{"p":"M","s":"st16","d":600,"v":37.0},{"p":"M","s":"st16","d":625,"v":37.0},
{"p":"M","s":"st17","d":5,"v":37.0},{"p":"M","s":"st17","d":10,"v":36.5},{"p":"M","s":"st17","d":25,"v":35.2},{"p":"M","s":"st17","d":50,"v":35.5},{"p":"M","s":"st17","d":100,"v":35.0},{"p":"M","s":"st17","d":200,"v":36.0},{"p":"M","s":"st17","d":300,"v":39.3},{"p":"M","s":"st17","d":350,"v":35.0},{"p":"M","s":"st17","d":375,"v":37.0},{"p":"M","s":"st17","d":400,"v":36.0},{"p":"M","s":"st17","d":425,"v":38.0},
{"p":"M","s":"st18","d":5,"v":33.0},{"p":"M","s":"st18","d":10,"v":33.2},{"p":"M","s":"st18","d":25,"v":34.1},{"p":"M","s":"st18","d":75,"v":32.0},{"p":"M","s":"st18","d":100,"v":33.9},{"p":"M","s":"st18","d":200,"v":33.9},{"p":"M","s":"st18","d":300,"v":35.0},{"p":"M","s":"st18","d":400,"v":36.5},{"p":"M","s":"st18","d":475,"v":37.0},{"p":"M","s":"st18","d":550,"v":39.2},{"p":"M","s":"st18","d":600,"v":37.7},
{"p":"M","s":"st44","d":25,"v":34.9},{"p":"M","s":"st44","d":50,"v":35.6},{"p":"M","s":"st44","d":150,"v":37.2},{"p":"M","s":"st44","d":250,"v":36.0},{"p":"M","s":"st44","d":400,"v":36.6},{"p":"M","s":"st44","d":500,"v":36.0},{"p":"M","s":"st44","d":600,"v":36.0},{"p":"M","s":"st44","d":700,"v":37.9},{"p":"M","s":"st44","d":750,"v":40.0},
{"p":"M","s":"st45","d":25,"v":35.0},{"p":"M","s":"st45","d":50,"v":35.0},{"p":"M","s":"st45","d":120,"v":35.0},{"p":"M","s":"st45","d":155,"v":35.0},{"p":"M","s":"st45","d":400,"v":35.0},{"p":"M","s":"st45","d":500,"v":35.0},{"p":"M","s":"st45","d":700,"v":38.0},{"p":"M","s":"st45","d":730,"v":37.0},

{"p":"N","s":"st44","d":25,"v":23.9},{"p":"N","s":"st44","d":50,"v":25.2},{"p":"N","s":"st44","d":150,"v":26.8},{"p":"N","s":"st44","d":250,"v":20.9},{"p":"N","s":"st44","d":400,"v":20.0},{"p":"N","s":"st44","d":500,"v":18.2},{"p":"N","s":"st44","d":600,"v":24.1},{"p":"N","s":"st44","d":700,"v":21.6},{"p":"N","s":"st44","d":750,"v":23.2},
{"p":"N","s":"st45","d":25,"v":20.9},{"p":"N","s":"st45","d":50,"v":17.0},{"p":"N","s":"st45","d":120,"v":19.1},{"p":"N","s":"st45","d":155,"v":20.0},{"p":"N","s":"st45","d":225,"v":18.2},{"p":"N","s":"st45","d":400,"v":20.0},{"p":"N","s":"st45","d":500,"v":18.2},{"p":"N","s":"st45","d":600,"v":20.9},{"p":"N","s":"st45","d":700,"v":20.9},{"p":"N","s":"st45","d":730,"v":15.9}
  ]},
  "columns": 3,
  "spacing": {"row": 89, "column": 46},
  "bounds": "flush",
  "resolve": {"scale": {"shape": "independent", "fill": "independent", "stroke": "independent"}},
  "concat": [
    {"width": 395, "height": 351, "title": {"text": "A", "dx": -64, "dy": 34},
     "transform": [{"filter": "datum.p == 'A'"}], "mark": "point",
     "encoding": {
      "x": {"field": "v", "type": "quantitative", "scale": {"domain": [-0.1, 2.6], "nice": false, "zero": false}, "axis": {"title": "[PO₄⁻³](µM)", "values": [0, 0.5, 1, 1.5, 2, 2.5], "format": ".1f"}},
      "y": {"field": "d", "type": "quantitative", "scale": {"domain": [-28, 785], "reverse": true, "nice": false, "zero": false}, "axis": {"title": "depth (m)", "values": [0, 200, 400, 600]}},
      "shape": {"field": "s", "type": "nominal", "scale": {"domain": ["st16","st17","st18","st44","st45"], "range": ["M-0.667,0A0.667,0.667,0,1,0,0.667,0A0.667,0.667,0,1,0,-0.667,0Z","M0,-0.85L1,0.85L-1,0.85Z","M-0.58,0A0.58,0.58,0,1,0,0.58,0A0.58,0.58,0,1,0,-0.58,0Z","M-0.78,0H0.78M0,-0.78V0.78","M0,-0.85L1,0.85L-1,0.85Z"]}, "legend": {"title": null, "orient": "none", "legendX": 14, "legendY": 14}},
      "stroke": {"field": "s", "type": "nominal", "scale": {"domain": ["st16","st17","st18","st44","st45"], "range": ["#000000","#3b5ca8","#5b4e9e","#66b032","#e3262c"]}, "legend": {"title": null, "orient": "none", "legendX": 14, "legendY": 14}},
      "fill": {"field": "s", "type": "nominal", "scale": {"domain": ["st16","st17","st18","st44","st45"], "range": ["#000000","transparent","transparent","transparent","transparent"]}, "legend": {"title": null, "orient": "none", "legendX": 14, "legendY": 14}}
     }},
    {"width": 395, "height": 351, "title": {"text": "B", "dx": -38, "dy": 34},
     "transform": [{"filter": "datum.p == 'B'"}], "mark": "point",
     "encoding": {
      "x": {"field": "v", "type": "quantitative", "scale": {"domain": [-1.4, 36.4], "nice": false, "zero": false}, "axis": {"title": "[NO₃⁻¹] (µM)", "values": [0, 5, 10, 15, 20, 25, 30, 35]}},
      "y": {"field": "d", "type": "quantitative", "scale": {"domain": [-28, 785], "reverse": true, "nice": false, "zero": false}, "axis": {"title": null, "labels": false, "values": [0, 200, 400, 600]}},
      "shape": {"field": "s", "type": "nominal", "scale": {"domain": ["st16","st17","st18","st44","st45"], "range": ["M-0.667,0A0.667,0.667,0,1,0,0.667,0A0.667,0.667,0,1,0,-0.667,0Z","M0,-0.85L1,0.85L-1,0.85Z","M-0.58,0A0.58,0.58,0,1,0,0.58,0A0.58,0.58,0,1,0,-0.58,0Z","M-0.78,0H0.78M0,-0.78V0.78","M0,-0.85L1,0.85L-1,0.85Z"]}, "legend": null},
      "stroke": {"field": "s", "type": "nominal", "scale": {"domain": ["st16","st17","st18","st44","st45"], "range": ["#000000","#3b5ca8","#5b4e9e","#66b032","#e3262c"]}, "legend": null},
      "fill": {"field": "s", "type": "nominal", "scale": {"domain": ["st16","st17","st18","st44","st45"], "range": ["#000000","transparent","transparent","transparent","transparent"]}, "legend": null}
     }},
    {"width": 395, "height": 351, "title": {"text": "C", "dx": -37, "dy": 34},
     "transform": [{"filter": "datum.p == 'C'"}], "mark": "point",
     "encoding": {
      "x": {"field": "v", "type": "quantitative", "scale": {"domain": [27.2, 102.8], "nice": false, "zero": false}, "axis": {"title": "Si(OH)₄ (µM)", "values": [30, 40, 50, 60, 70, 80, 90, 100], "labelExpr": "datum.value == 100 ? '' : datum.label"}},
      "y": {"field": "d", "type": "quantitative", "scale": {"domain": [-28, 785], "reverse": true, "nice": false, "zero": false}, "axis": {"title": null, "labels": false, "values": [0, 200, 400, 600]}},
      "shape": {"field": "s", "type": "nominal", "scale": {"domain": ["st16","st17","st18","st44","st45"], "range": ["M-0.667,0A0.667,0.667,0,1,0,0.667,0A0.667,0.667,0,1,0,-0.667,0Z","M0,-0.85L1,0.85L-1,0.85Z","M-0.58,0A0.58,0.58,0,1,0,0.58,0A0.58,0.58,0,1,0,-0.58,0Z","M-0.78,0H0.78M0,-0.78V0.78","M0,-0.85L1,0.85L-1,0.85Z"]}, "legend": null},
      "stroke": {"field": "s", "type": "nominal", "scale": {"domain": ["st16","st17","st18","st44","st45"], "range": ["#000000","#3b5ca8","#5b4e9e","#66b032","#e3262c"]}, "legend": null},
      "fill": {"field": "s", "type": "nominal", "scale": {"domain": ["st16","st17","st18","st44","st45"], "range": ["#000000","transparent","transparent","transparent","transparent"]}, "legend": null}
     }},
    {"width": 395, "height": 351, "title": {"text": "D", "dx": -64, "dy": 34},
     "transform": [{"filter": "datum.p == 'D'"}], "mark": "point",
     "encoding": {
      "x": {"field": "v", "type": "quantitative", "scale": {"domain": [-0.32, 8.32], "nice": false, "zero": false}, "axis": {"title": "DZn (nM)", "values": [0, 2, 4, 6, 8]}},
      "y": {"field": "d", "type": "quantitative", "scale": {"domain": [-28, 785], "reverse": true, "nice": false, "zero": false}, "axis": {"title": "depth (m)", "values": [0, 200, 400, 600]}},
      "shape": {"field": "s", "type": "nominal", "scale": {"domain": ["st16","st17","st18","st44","st45"], "range": ["M-0.667,0A0.667,0.667,0,1,0,0.667,0A0.667,0.667,0,1,0,-0.667,0Z","M0,-0.85L1,0.85L-1,0.85Z","M-0.58,0A0.58,0.58,0,1,0,0.58,0A0.58,0.58,0,1,0,-0.58,0Z","M-0.78,0H0.78M0,-0.78V0.78","M0,-0.85L1,0.85L-1,0.85Z"]}, "legend": null},
      "stroke": {"field": "s", "type": "nominal", "scale": {"domain": ["st16","st17","st18","st44","st45"], "range": ["#000000","#3b5ca8","#5b4e9e","#66b032","#e3262c"]}, "legend": null},
      "fill": {"field": "s", "type": "nominal", "scale": {"domain": ["st16","st17","st18","st44","st45"], "range": ["#000000","transparent","transparent","transparent","transparent"]}, "legend": null}
     }},
    {"width": 395, "height": 351, "title": {"text": "E", "dx": -38, "dy": 34},
     "transform": [{"filter": "datum.p == 'E'"}], "mark": "point",
     "encoding": {
      "x": {"field": "v", "type": "quantitative", "scale": {"domain": [-0.036, 0.936], "nice": false, "zero": false}, "axis": {"title": "DCd (nM)", "values": [0, 0.2, 0.4, 0.6, 0.8], "format": ".1f"}},
      "y": {"field": "d", "type": "quantitative", "scale": {"domain": [-28, 785], "reverse": true, "nice": false, "zero": false}, "axis": {"title": null, "labels": false, "values": [0, 200, 400, 600]}},
      "shape": {"field": "s", "type": "nominal", "scale": {"domain": ["st16","st17","st18","st44","st45"], "range": ["M-0.667,0A0.667,0.667,0,1,0,0.667,0A0.667,0.667,0,1,0,-0.667,0Z","M0,-0.85L1,0.85L-1,0.85Z","M-0.58,0A0.58,0.58,0,1,0,0.58,0A0.58,0.58,0,1,0,-0.58,0Z","M-0.78,0H0.78M0,-0.78V0.78","M0,-0.85L1,0.85L-1,0.85Z"]}, "legend": null},
      "stroke": {"field": "s", "type": "nominal", "scale": {"domain": ["st16","st17","st18","st44","st45"], "range": ["#000000","#3b5ca8","#5b4e9e","#66b032","#e3262c"]}, "legend": null},
      "fill": {"field": "s", "type": "nominal", "scale": {"domain": ["st16","st17","st18","st44","st45"], "range": ["#000000","transparent","transparent","transparent","transparent"]}, "legend": null}
     }},
    {"width": 395, "height": 351, "title": {"text": "F", "dx": -37, "dy": 34},
     "transform": [{"filter": "datum.p == 'F'"}], "mark": "point",
     "encoding": {
      "x": {"field": "v", "type": "quantitative", "scale": {"domain": [-4, 104], "nice": false, "zero": false}, "axis": {"title": "DCo (pM)", "values": [0, 20, 40, 60, 80, 100]}},
      "y": {"field": "d", "type": "quantitative", "scale": {"domain": [-28, 785], "reverse": true, "nice": false, "zero": false}, "axis": {"title": null, "labels": false, "values": [0, 200, 400, 600]}},
      "shape": {"field": "s", "type": "nominal", "scale": {"domain": ["st16","st17","st18","st44","st45"], "range": ["M-0.667,0A0.667,0.667,0,1,0,0.667,0A0.667,0.667,0,1,0,-0.667,0Z","M0,-0.85L1,0.85L-1,0.85Z","M-0.58,0A0.58,0.58,0,1,0,0.58,0A0.58,0.58,0,1,0,-0.58,0Z","M-0.78,0H0.78M0,-0.78V0.78","M0,-0.85L1,0.85L-1,0.85Z"]}, "legend": null},
      "stroke": {"field": "s", "type": "nominal", "scale": {"domain": ["st16","st17","st18","st44","st45"], "range": ["#000000","#3b5ca8","#5b4e9e","#66b032","#e3262c"]}, "legend": null},
      "fill": {"field": "s", "type": "nominal", "scale": {"domain": ["st16","st17","st18","st44","st45"], "range": ["#000000","transparent","transparent","transparent","transparent"]}, "legend": null}
     }},
    {"width": 395, "height": 351, "title": {"text": "G", "dx": -64, "dy": 34},
     "transform": [{"filter": "datum.p == 'G'"}], "mark": "point",
     "encoding": {
      "x": {"field": "v", "type": "quantitative", "scale": {"domain": [-0.14, 3.64], "nice": false, "zero": false}, "axis": {"title": "DCu (nM)", "values": [0, 0.5, 1, 1.5, 2, 2.5, 3, 3.5], "labelExpr": "datum.value % 1 == 0 ? format(datum.value, '.1f') : ''"}},
      "y": {"field": "d", "type": "quantitative", "scale": {"domain": [-28, 785], "reverse": true, "nice": false, "zero": false}, "axis": {"title": "depth (m)", "values": [0, 200, 400, 600]}},
      "shape": {"field": "s", "type": "nominal", "scale": {"domain": ["st16","st17","st18","st44","st45"], "range": ["M-0.667,0A0.667,0.667,0,1,0,0.667,0A0.667,0.667,0,1,0,-0.667,0Z","M0,-0.85L1,0.85L-1,0.85Z","M-0.58,0A0.58,0.58,0,1,0,0.58,0A0.58,0.58,0,1,0,-0.58,0Z","M-0.78,0H0.78M0,-0.78V0.78","M0,-0.85L1,0.85L-1,0.85Z"]}, "legend": null},
      "stroke": {"field": "s", "type": "nominal", "scale": {"domain": ["st16","st17","st18","st44","st45"], "range": ["#000000","#3b5ca8","#5b4e9e","#66b032","#e3262c"]}, "legend": null},
      "fill": {"field": "s", "type": "nominal", "scale": {"domain": ["st16","st17","st18","st44","st45"], "range": ["#000000","transparent","transparent","transparent","transparent"]}, "legend": null}
     }},
    {"width": 395, "height": 351, "title": {"text": "H", "dx": -38, "dy": 34},
     "transform": [{"filter": "datum.p == 'H'"}], "mark": "point",
     "encoding": {
      "x": {"field": "v", "type": "quantitative", "scale": {"domain": [-0.1, 2.6], "nice": false, "zero": false}, "axis": {"title": "DFe (nM)", "values": [0, 0.5, 1, 1.5, 2, 2.5], "format": ".1f"}},
      "y": {"field": "d", "type": "quantitative", "scale": {"domain": [-28, 785], "reverse": true, "nice": false, "zero": false}, "axis": {"title": null, "labels": false, "values": [0, 200, 400, 600]}},
      "shape": {"field": "s", "type": "nominal", "scale": {"domain": ["st16","st17","st18","st44","st45"], "range": ["M-0.667,0A0.667,0.667,0,1,0,0.667,0A0.667,0.667,0,1,0,-0.667,0Z","M0,-0.85L1,0.85L-1,0.85Z","M-0.58,0A0.58,0.58,0,1,0,0.58,0A0.58,0.58,0,1,0,-0.58,0Z","M-0.78,0H0.78M0,-0.78V0.78","M0,-0.85L1,0.85L-1,0.85Z"]}, "legend": null},
      "stroke": {"field": "s", "type": "nominal", "scale": {"domain": ["st16","st17","st18","st44","st45"], "range": ["#000000","#3b5ca8","#5b4e9e","#66b032","#e3262c"]}, "legend": null},
      "fill": {"field": "s", "type": "nominal", "scale": {"domain": ["st16","st17","st18","st44","st45"], "range": ["#000000","transparent","transparent","transparent","transparent"]}, "legend": null}
     }},
    {"width": 395, "height": 351, "title": {"text": "I", "dx": -37, "dy": 34},
     "transform": [{"filter": "datum.p == 'I'"}], "mark": "point",
     "encoding": {
      "x": {"field": "v", "type": "quantitative", "scale": {"domain": [-0.14, 3.64], "nice": false, "zero": false}, "axis": {"title": "DMn (nM)", "values": [0, 0.5, 1, 1.5, 2, 2.5, 3, 3.5], "labelExpr": "datum.value % 1 == 0 ? format(datum.value, '.1f') : ''"}},
      "y": {"field": "d", "type": "quantitative", "scale": {"domain": [-28, 785], "reverse": true, "nice": false, "zero": false}, "axis": {"title": null, "labels": false, "values": [0, 200, 400, 600]}},
      "shape": {"field": "s", "type": "nominal", "scale": {"domain": ["st16","st17","st18","st44","st45"], "range": ["M-0.667,0A0.667,0.667,0,1,0,0.667,0A0.667,0.667,0,1,0,-0.667,0Z","M0,-0.85L1,0.85L-1,0.85Z","M-0.58,0A0.58,0.58,0,1,0,0.58,0A0.58,0.58,0,1,0,-0.58,0Z","M-0.78,0H0.78M0,-0.78V0.78","M0,-0.85L1,0.85L-1,0.85Z"]}, "legend": null},
      "stroke": {"field": "s", "type": "nominal", "scale": {"domain": ["st16","st17","st18","st44","st45"], "range": ["#000000","#3b5ca8","#5b4e9e","#66b032","#e3262c"]}, "legend": null},
      "fill": {"field": "s", "type": "nominal", "scale": {"domain": ["st16","st17","st18","st44","st45"], "range": ["#000000","transparent","transparent","transparent","transparent"]}, "legend": null}
     }},
    {"width": 395, "height": 351, "title": {"text": "J", "dx": -64, "dy": 34},
     "transform": [{"filter": "datum.p == 'J'"}], "mark": "point",
     "encoding": {
      "x": {"field": "v", "type": "quantitative", "scale": {"domain": [3.84, 8.16], "nice": false, "zero": false}, "axis": {"title": "DNi (nM)", "values": [4, 5, 6, 7, 8]}},
      "y": {"field": "d", "type": "quantitative", "scale": {"domain": [-28, 785], "reverse": true, "nice": false, "zero": false}, "axis": {"title": "depth (m)", "values": [0, 200, 400, 600]}},
      "shape": {"field": "s", "type": "nominal", "scale": {"domain": ["st16","st17","st18","st44","st45"], "range": ["M-0.667,0A0.667,0.667,0,1,0,0.667,0A0.667,0.667,0,1,0,-0.667,0Z","M0,-0.85L1,0.85L-1,0.85Z","M-0.58,0A0.58,0.58,0,1,0,0.58,0A0.58,0.58,0,1,0,-0.58,0Z","M-0.78,0H0.78M0,-0.78V0.78","M0,-0.85L1,0.85L-1,0.85Z"]}, "legend": null},
      "stroke": {"field": "s", "type": "nominal", "scale": {"domain": ["st16","st17","st18","st44","st45"], "range": ["#000000","#3b5ca8","#5b4e9e","#66b032","#e3262c"]}, "legend": null},
      "fill": {"field": "s", "type": "nominal", "scale": {"domain": ["st16","st17","st18","st44","st45"], "range": ["#000000","transparent","transparent","transparent","transparent"]}, "legend": null}
     }},
    {"width": 395, "height": 351, "title": {"text": "K", "dx": -38, "dy": 34},
     "transform": [{"filter": "datum.p == 'K'"}], "mark": "point",
     "encoding": {
      "x": {"field": "v", "type": "quantitative", "scale": {"domain": [-0.02, 0.52], "nice": false, "zero": false}, "axis": {"title": "DTi (nM)", "values": [0, 0.1, 0.2, 0.3, 0.4, 0.5], "format": ".1f"}},
      "y": {"field": "d", "type": "quantitative", "scale": {"domain": [-28, 785], "reverse": true, "nice": false, "zero": false}, "axis": {"title": null, "labels": false, "values": [0, 200, 400, 600]}},
      "shape": {"field": "s", "type": "nominal", "scale": {"domain": ["st16","st17","st18","st44","st45"], "range": ["M-0.667,0A0.667,0.667,0,1,0,0.667,0A0.667,0.667,0,1,0,-0.667,0Z","M0,-0.85L1,0.85L-1,0.85Z","M-0.58,0A0.58,0.58,0,1,0,0.58,0A0.58,0.58,0,1,0,-0.58,0Z","M-0.78,0H0.78M0,-0.78V0.78","M0,-0.85L1,0.85L-1,0.85Z"]}, "legend": null},
      "stroke": {"field": "s", "type": "nominal", "scale": {"domain": ["st16","st17","st18","st44","st45"], "range": ["#000000","#3b5ca8","#5b4e9e","#66b032","#e3262c"]}, "legend": null},
      "fill": {"field": "s", "type": "nominal", "scale": {"domain": ["st16","st17","st18","st44","st45"], "range": ["#000000","transparent","transparent","transparent","transparent"]}, "legend": null}
     }},
    {"width": 395, "height": 351, "title": {"text": "L", "dx": -37, "dy": 34},
     "transform": [{"filter": "datum.p == 'L'"}], "mark": "point",
     "encoding": {
      "x": {"field": "v", "type": "quantitative", "scale": {"domain": [0.147, 0.228], "nice": false, "zero": false}, "axis": {"title": "DY (nM)", "values": [0.16, 0.18, 0.2, 0.22], "format": ".2f"}},
      "y": {"field": "d", "type": "quantitative", "scale": {"domain": [-28, 785], "reverse": true, "nice": false, "zero": false}, "axis": {"title": null, "labels": false, "values": [0, 200, 400, 600]}},
      "shape": {"field": "s", "type": "nominal", "scale": {"domain": ["st16","st17","st18","st44","st45"], "range": ["M-0.667,0A0.667,0.667,0,1,0,0.667,0A0.667,0.667,0,1,0,-0.667,0Z","M0,-0.85L1,0.85L-1,0.85Z","M-0.58,0A0.58,0.58,0,1,0,0.58,0A0.58,0.58,0,1,0,-0.58,0Z","M-0.78,0H0.78M0,-0.78V0.78","M0,-0.85L1,0.85L-1,0.85Z"]}, "legend": null},
      "stroke": {"field": "s", "type": "nominal", "scale": {"domain": ["st16","st17","st18","st44","st45"], "range": ["#000000","#3b5ca8","#5b4e9e","#66b032","#e3262c"]}, "legend": null},
      "fill": {"field": "s", "type": "nominal", "scale": {"domain": ["st16","st17","st18","st44","st45"], "range": ["#000000","transparent","transparent","transparent","transparent"]}, "legend": null}
     }},
    {"width": 395, "height": 351, "title": {"text": "M", "dx": -64, "dy": 34},
     "transform": [{"filter": "datum.p == 'M'"}], "mark": "point",
     "encoding": {
      "x": {"field": "v", "type": "quantitative", "scale": {"domain": [24, 51], "nice": false, "zero": false}, "axis": {"title": "DLa (pM)", "values": [25, 30, 35, 40, 45, 50]}},
      "y": {"field": "d", "type": "quantitative", "scale": {"domain": [-28, 785], "reverse": true, "nice": false, "zero": false}, "axis": {"title": "depth (m)", "values": [0, 200, 400, 600]}},
      "shape": {"field": "s", "type": "nominal", "scale": {"domain": ["st16","st17","st18","st44","st45"], "range": ["M-0.667,0A0.667,0.667,0,1,0,0.667,0A0.667,0.667,0,1,0,-0.667,0Z","M0,-0.85L1,0.85L-1,0.85Z","M-0.58,0A0.58,0.58,0,1,0,0.58,0A0.58,0.58,0,1,0,-0.58,0Z","M-0.78,0H0.78M0,-0.78V0.78","M0,-0.85L1,0.85L-1,0.85Z"]}, "legend": null},
      "stroke": {"field": "s", "type": "nominal", "scale": {"domain": ["st16","st17","st18","st44","st45"], "range": ["#000000","#3b5ca8","#5b4e9e","#66b032","#e3262c"]}, "legend": null},
      "fill": {"field": "s", "type": "nominal", "scale": {"domain": ["st16","st17","st18","st44","st45"], "range": ["#000000","transparent","transparent","transparent","transparent"]}, "legend": null}
     }},
    {"width": 395, "height": 351, "title": {"text": "N", "dx": -38, "dy": 34},
     "transform": [{"filter": "datum.p == 'N'"}], "mark": "point",
     "encoding": {
      "x": {"field": "v", "type": "quantitative", "scale": {"domain": [-2.4, 62.4], "nice": false, "zero": false}, "axis": {"title": "DPb (pM)", "values": [0, 10, 20, 30, 40, 50, 60]}},
      "y": {"field": "d", "type": "quantitative", "scale": {"domain": [-28, 785], "reverse": true, "nice": false, "zero": false}, "axis": {"title": null, "labels": false, "values": [0, 200, 400, 600]}},
      "shape": {"field": "s", "type": "nominal", "scale": {"domain": ["st16","st17","st18","st44","st45"], "range": ["M-0.667,0A0.667,0.667,0,1,0,0.667,0A0.667,0.667,0,1,0,-0.667,0Z","M0,-0.85L1,0.85L-1,0.85Z","M-0.58,0A0.58,0.58,0,1,0,0.58,0A0.58,0.58,0,1,0,-0.58,0Z","M-0.78,0H0.78M0,-0.78V0.78","M0,-0.85L1,0.85L-1,0.85Z"]}, "legend": {"title": null, "orient": "none", "legendX": 258, "legendY": 97}},
      "stroke": {"field": "s", "type": "nominal", "scale": {"domain": ["st16","st17","st18","st44","st45"], "range": ["#000000","#3b5ca8","#5b4e9e","#66b032","#e3262c"]}, "legend": {"title": null, "orient": "none", "legendX": 258, "legendY": 97}},
      "fill": {"field": "s", "type": "nominal", "scale": {"domain": ["st16","st17","st18","st44","st45"], "range": ["#000000","transparent","transparent","transparent","transparent"]}, "legend": {"title": null, "orient": "none", "legendX": 258, "legendY": 97}}
     }}
  ]
}
